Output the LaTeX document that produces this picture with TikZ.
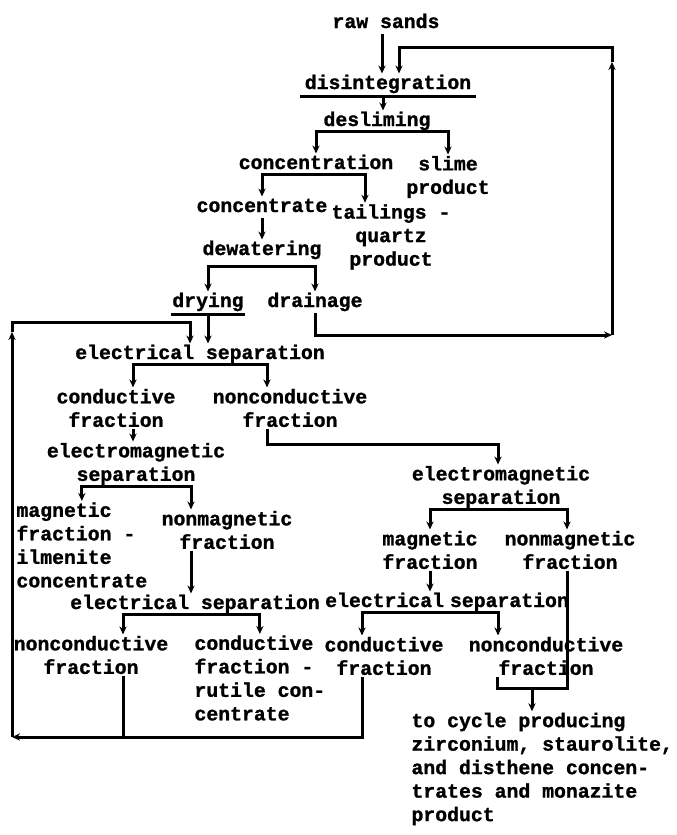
\documentclass[tikz,border=0pt]{standalone}
\usepackage{fontspec}
\newfontfamily\typefont{Liberation Mono}[BoldFeatures={FakeBold=1.2}]
\newcommand\tw{\typefont\bfseries\fontsize{9.9}{11.75}\selectfont}
\usetikzlibrary{arrows.meta}

\begin{document}
\begin{tikzpicture}[x=0.5pt, y=-0.5pt, >={Stealth[length=4pt, width=3.6pt]}, line width=1.5pt,
    lbl/.style={font=\tw, inner sep=0pt, text height=7pt, text depth=2pt},
    blk/.style={font=\tw, inner sep=0pt, align=center},
    blkl/.style={font=\tw, inner sep=0pt, align=left, anchor=west},
    uline/.style={line width=1.1pt}]
    \useasboundingbox (0,0) rectangle (676,835);

    % upper part of the flow
    \node[lbl] (raw) at (386,23) {raw sands};
    \node[lbl] (dis) at (388,84) {disintegration};
    \node[lbl] (des) at (377,121) {desliming};
    \node[lbl] (con) at (316,164) {concentration};
    \node[blk] (slime) at (448,177) {slime\\product};
    \node[lbl] (cnt) at (262,207) {concentrate};
    \node[blk] (tail) at (391,237) {tailings -\\quartz\\product};
    \node[lbl] (dew) at (262,250) {dewatering};
    \node[lbl] (dry) at (208,302) {drying};
    \node[lbl] (drain) at (315,302) {drainage};
    \node[lbl] (es1) at (200,354) {electrical separation};
    \node[blk] (cf1) at (116,408) {conductive\\fraction};
    \node[blk] (ncf1) at (290,408) {nonconductive\\fraction};

    % left branch
    \node[blk] (em1) at (136,464) {electromagnetic\\separation};
    \node[blkl] (mf1) at (15,545) {magnetic\\fraction -\\ilmenite\\concentrate};
    \node[blk] (nmf1) at (227,530) {nonmagnetic\\fraction};
    \node[lbl] (es2) at (195,604) {electrical separation};
    \node[blk] (ncf2) at (91,655) {nonconductive\\fraction};
    \node[blkl] (cf2) at (193,678) {conductive\\fraction -\\rutile con-\\centrate};

    % right branch
    \node[blk] (em2) at (501,487) {electromagnetic\\separation};
    \node[blk] (mf2) at (430,550) {magnetic\\fraction};
    \node[blk] (nmf2) at (570,550) {nonmagnetic\\fraction};
    \node[lbl] (es3) at (447,602) {electrical\kern3pt separation};
    \node[blk] (cf3) at (384,656) {conductive\\fraction};
    \node[blk] (ncf3) at (546,656) {nonconductive\\fraction};
    \node[blkl] (cyc) at (410,769) {to cycle producing\\zirconium, staurolite,\\and disthene concen-\\trates and monazite\\product};

    % connectors
    \draw[->] ([xshift=-2pt]raw.south) -- ([xshift=-2pt]raw.south |- dis.north);
    \draw[uline] ([xshift=-1.5pt,yshift=-1pt]dis.south west) -- ([xshift=1.5pt,yshift=-1pt]dis.south east);
    \draw[->] ([xshift=-2.5pt,yshift=-1pt]dis.south) -- ([xshift=-2.5pt]dis.south |- des.north);
    \draw[->] (des.south) -| (con.north);
    \draw[->] (des.south) -| (slime.north);
    \draw[->] (con.south) -| (cnt.north);
    \draw[->] (con.south) -| ([xshift=-13pt]tail.north);
    \draw[->] (cnt.south) -- (dew.north);
    \coordinate (dewS) at ([yshift=-3pt]dew.south);
    \draw[->] (dewS) -| (dry.north);
    \draw[->] (dewS) -| (drain.north);
    \draw[uline] ([yshift=-1pt]dry.south west) -- ([yshift=-1pt]dry.south east);
    \draw[->] ([yshift=-1pt]dry.south) -- (dry.south |- es1.north);

    % drainage back to disintegration
    \coordinate (fbBot) at (612,335);
    \coordinate (fbMid) at (612,62);
    \coordinate (fbTop) at (612,47);
    \draw[->] (drain.south) |- (fbBot);
    \draw[->] (fbBot) -- (fbMid);
    \draw[->] (fbMid) -- (fbTop) -| ([xshift=5.5pt]dis.north);

    % fractions back to the first electrical separation
    \coordinate (lpBot) at (12,737);
    \coordinate (lpMid) at (12,332);
    \coordinate (lpTop) at (12,322);
    \draw ([xshift=16pt]ncf2.south) -- ([xshift=16pt]ncf2.south |- lpBot);
    \draw[->] ([xshift=-11pt]cf3.south) |- (lpBot);
    \draw[->] (lpBot) -- (lpMid);
    \draw[->] (lpMid) -- (lpTop) -| ([xshift=-5pt]es1.north);

    \draw[->] (es1.south) -| ([xshift=8.5pt]cf1.north);
    \draw[->] (es1.south) -| ([xshift=-11.5pt]ncf1.north);
    \draw[->] ([xshift=8.5pt]cf1.south) -- ([xshift=8.5pt]cf1.south |- em1.north);
    \coordinate (ncT) at (498,444);
    \draw[->] ([xshift=-11.5pt]ncf1.south) |- (ncT) -- (ncT |- em2.north);

    \draw[->] (em1.south) -| (mf1.north);
    \draw[->] (em1.south) -| ([xshift=-18pt]nmf1.north);
    \draw[->] ([xshift=-18pt]nmf1.south) -- ([xshift=-18pt]nmf1.south |- es2.north);
    \draw[->] (es2.south) -| ([xshift=16pt]ncf2.north);
    \draw[->] (es2.south) -| (cf2.north);

    \draw[->] (em2.south) -| (mf2.north);
    \draw[->] (em2.south) -| ([xshift=-1.5pt]nmf2.north);
    \draw[->] (mf2.south) -- (mf2.south |- es3.north);
    \draw[->] (es3.south) -| ([xshift=-11pt]cf3.north);
    \draw[->] (es3.south) -| ([xshift=-24pt]ncf3.north);

    \coordinate (brR) at (567,688);
    \coordinate (brL) at (497,688);
    \coordinate (brM) at (532,688);
    \draw ([xshift=-1.5pt]nmf2.south) -- (brR) -- (brL) -- ([xshift=-24.5pt]ncf3.south);
    \draw[->] (brM) -- (brM |- cyc.north);
\end{tikzpicture}
\end{document}
